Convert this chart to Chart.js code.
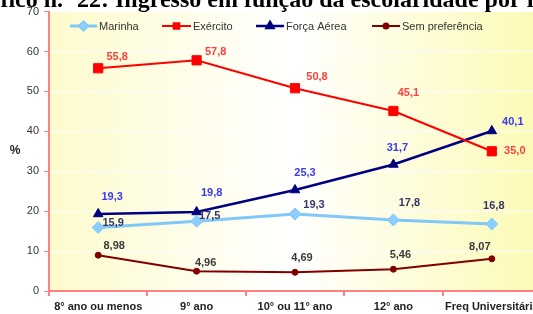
<!DOCTYPE html>
<html>
<head>
<meta charset="utf-8">
<script src="https://cdn.jsdelivr.net/npm/chart.js@4/dist/chart.umd.min.js"></script>
<style>
  html, body { margin: 0; padding: 0; background: #fff; overflow: hidden; width: 533px; height: 314px; }
  #wrap { width: 560px; height: 314px; position: relative; }
</style>
</head>
<body>
<div id="wrap"><canvas id="myChart"></canvas></div>
<script>
const ctx = document.getElementById('myChart');

const categories = ['8° ano ou menos', '9° ano', '10° ou 11° ano', '12° ano', 'Freq Universitária'];
const marinha = [15.9, 17.5, 19.3, 17.8, 16.8];
const exercito = [55.8, 57.8, 50.8, 45.1, 35.0];
const forcaAerea = [19.3, 19.8, 25.3, 31.7, 40.1];
const semPreferencia = [8.98, 4.96, 4.69, 5.46, 8.07];
const yMin = 0, yMax = 70, yStep = 10;

const titleLeft = 'Gráfico n.º 22: ';
const titleRight = 'Ingresso em função da escolaridade por ramo';

const FONT = 'Arial, "Liberation Sans", sans-serif';

// label offsets relative to each point (dx, dy)
const datasets = [
    {
        label: 'Marinha', data: marinha,
        borderColor: '#80c8f8', backgroundColor: '#8ccfff', borderWidth: 3,
        pointStyle: 'rectRot', pointRadius: 6, pointBorderWidth: 1, pointBorderColor: '#80c8f8',
        labelColor: '#36366a', decimals: 1,
        labelOffsets: [[15, -5], [13, -5], [19, -9], [16, -17], [2, -18]]
    },
    {
        label: 'Exército', data: exercito,
        borderColor: '#ff0000', backgroundColor: '#ff0000', borderWidth: 2,
        pointStyle: 'rect', pointRadius: 6.5,
        labelColor: '#ff4040', decimals: 1,
        labelOffsets: [[19, -11], [19, -8], [22, -11], [15, -18], [23, 0]]
    },
    {
        label: 'Força Aérea', data: forcaAerea,
        borderColor: '#000080', backgroundColor: '#000080', borderWidth: 2.5,
        pointStyle: 'triangle', pointRadius: 5.5,
        labelColor: '#3a3af0', decimals: 1,
        labelOffsets: [[14, -17], [15, -19], [10, -17], [4, -17], [21, -9]]
    },
    {
        label: 'Sem preferência', data: semPreferencia,
        borderColor: '#800000', backgroundColor: '#800000', borderWidth: 2,
        pointStyle: 'circle', pointRadius: 3,
        labelColor: '#3a3a3a', decimals: 2,
        labelOffsets: [[16, -9], [9, -8], [7, -14], [7, -14], [-12, -12]]
    }
];

const legendItems = [
    { x: 70, w: 27 },
    { x: 162, w: 29 },
    { x: 256, w: 28 },
    { x: 372, w: 28 }
];

const decorPlugin = {
    id: 'decor',
    beforeDraw(chart) {
        const c = chart.ctx;
        const a = chart.chartArea;
        const g = c.createLinearGradient(a.left, 0, 533, 0);
        g.addColorStop(0, '#fdfbcc');
        g.addColorStop(0.5, '#ffffff');
        g.addColorStop(1, '#fcfab8');
        c.save();
        c.fillStyle = g;
        c.fillRect(a.left, a.top, chart.width - a.left, a.bottom - a.top);
        c.restore();
    },
    afterDatasetsDraw(chart) {
        const c = chart.ctx;
        c.save();
        // value labels
        c.font = 'bold 11px ' + FONT;
        c.textAlign = 'center';
        c.textBaseline = 'middle';
        chart.data.datasets.forEach((ds, i) => {
            const meta = chart.getDatasetMeta(i);
            meta.data.forEach((pt, j) => {
                const off = ds.labelOffsets[j];
                c.fillStyle = ds.labelColor;
                c.fillText(ds.data[j].toFixed(ds.decimals).replace('.', ','), pt.x + off[0], pt.y + off[1]);
            });
        });
        // legend
        const ly = 26;
        c.font = '11px ' + FONT;
        c.textAlign = 'left';
        chart.data.datasets.forEach((ds, i) => {
            const it = legendItems[i];
            c.strokeStyle = ds.borderColor;
            c.lineWidth = ds.borderWidth;
            c.beginPath();
            c.moveTo(it.x, ly);
            c.lineTo(it.x + it.w, ly);
            c.stroke();
            Chart.helpers.drawPoint(c, {
                pointStyle: ds.pointStyle,
                radius: ds.pointStyle === 'circle' ? 2.5 : 4,
                borderWidth: 1
            }, it.x + it.w / 2, ly);
            c.fillStyle = ds.backgroundColor;
            c.fill();
            c.fillStyle = '#333333';
            c.fillText(ds.label, it.x + it.w + 2, ly + 1);
        });
        c.restore();
    },
    afterDraw(chart) {
        const c = chart.ctx;
        c.save();
        // "%" axis label
        c.font = 'bold 12px ' + FONT;
        c.fillStyle = '#222';
        c.textAlign = 'center';
        c.textBaseline = 'middle';
        c.fillText('%', 15, 151);
        // cut-off title
        c.font = 'bold 24px "Liberation Serif", "Times New Roman", serif';
        c.fillStyle = '#000';
        c.textBaseline = 'alphabetic';
        c.textAlign = 'right';
        c.fillText(titleLeft, 115, 7);
        c.textAlign = 'left';
        c.fillText(titleRight, 115, 7);
        c.restore();
    }
};

const config = {
    type: 'line',
    data: {
        labels: categories,
        datasets: datasets.map(ds => ({
            label: ds.label,
            data: ds.data,
            borderColor: ds.borderColor,
            backgroundColor: ds.backgroundColor,
            borderWidth: ds.borderWidth,
            pointStyle: ds.pointStyle,
            pointRadius: ds.pointRadius,
            pointBackgroundColor: ds.backgroundColor,
            pointBorderColor: ds.pointBorderColor || ds.borderColor,
            pointBorderWidth: ds.pointBorderWidth || 1,
            tension: 0,
            fill: false,
            labelOffsets: ds.labelOffsets,
            labelColor: ds.labelColor,
            decimals: ds.decimals
        }))
    },
    options: {
        responsive: true,
        maintainAspectRatio: false,
        animation: false,
        layout: { padding: { top: 11, right: 19, left: 0, bottom: 0 } },
        plugins: {
            legend: { display: false },
            tooltip: { enabled: false }
        },
        scales: {
            x: {
                offset: true,
                grid: {
                    offset: true,
                    drawOnChartArea: false,
                    tickLength: 5,
                    tickColor: '#ff8080',
                    lineWidth: 2
                },
                border: { color: '#ff8080', width: 2 },
                ticks: {
                    color: '#222',
                    font: { family: FONT, size: 11, weight: 'bold' },
                    padding: 4,
                    maxRotation: 0,
                    autoSkip: false
                },
                afterFit(scale) { scale.height = 23; }
            },
            y: {
                min: yMin,
                max: yMax,
                ticks: {
                    stepSize: yStep,
                    color: '#333',
                    font: { family: FONT, size: 11 },
                    padding: 5
                },
                grid: {
                    color: '#ffffff',
                    tickColor: '#ff8080',
                    tickLength: 5,
                    lineWidth: 1
                },
                border: { color: '#ff8080', width: 2 },
                afterFit(scale) { scale.width = 49; }
            }
        }
    },
    plugins: [decorPlugin]
};

const chart = new Chart(ctx, config);
</script>
</body>
</html>
